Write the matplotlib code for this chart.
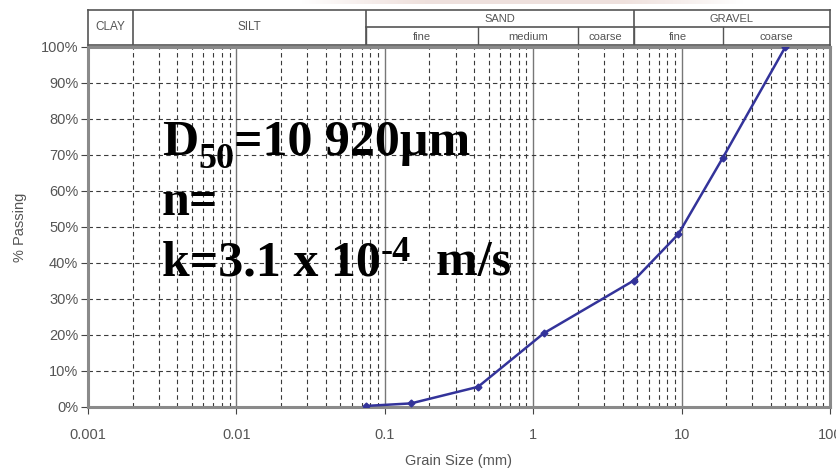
import numpy as np
import matplotlib
matplotlib.use('Agg')
from matplotlib import pyplot as plt
from matplotlib.ticker import FixedLocator, NullFormatter, FuncFormatter

# sieve sizes (mm) and percent passing
grain_size = [0.075, 0.15, 0.425, 1.18, 4.75, 9.5, 19, 50]
passing = [0.3, 1.0, 5.6, 20.5, 35.1, 48.0, 69.3, 100]

x_ticks = [0.001, 0.01, 0.1, 1, 10, 100]
x_tick_labels = ['0.001', '0.01', '0.1', '1', '10', '100']
y_ticks = [0, 10, 20, 30, 40, 50, 60, 70, 80, 90, 100]

# soil classification header: (name, lower mm, upper mm)
main_classes = [('SAND', 0.075, 4.75), ('GRAVEL', 4.75, 100)]
full_classes = [('CLAY', 0.001, 0.002), ('SILT', 0.002, 0.075)]
sub_classes = [('fine', 0.075, 0.425), ('medium', 0.425, 2), ('coarse', 2, 4.75),
               ('fine', 4.75, 19), ('coarse', 19, 100)]

# annotation lines: pieces of (text, size factor, baseline shift in px)
note_lines = [
    [('D', 1.0, 0), ('50', 0.72, -13), ('=10 920µm', 1.0, 0)],
    [('n=', 1.0, 0)],
    [('k=3.1 x 10', 1.0, 0), ('-4', 0.72, 14), ('  m/s', 1.0, 0)],
]

plt.rcParams['font.family'] = ['Liberation Sans', 'DejaVu Sans']

W, H = 837, 470
fig = plt.figure(figsize=(W / 100, H / 100), dpi=100)

def frac(x0, y0, x1, y1):
    # pixel box -> figure fraction rect
    return [x0 / W, 1 - y1 / H, (x1 - x0) / W, (y1 - y0) / H]

grid_col = '#3a3a3a'
frame_col = '#8a8a8a'
text_col = '#555555'

ax = fig.add_axes(frac(88, 47, 830, 407))
ax.set_xscale('log')
ax.set_xlim(0.001, 100)
ax.set_ylim(0, 100)

ax.plot(grain_size, passing, color='#33339a', lw=1.8, marker='D', ms=3.5,
        zorder=5)

ax.xaxis.set_major_locator(FixedLocator(x_ticks))
ax.xaxis.set_major_formatter(FuncFormatter(lambda v, p: x_tick_labels[x_ticks.index(v)] if v in x_ticks else ''))
minor = [m * 10.0 ** e for e in range(-3, 2) for m in range(2, 10)]
ax.xaxis.set_minor_locator(FixedLocator(minor))
ax.xaxis.set_minor_formatter(NullFormatter())
ax.yaxis.set_major_locator(FixedLocator(y_ticks))
ax.yaxis.set_major_formatter(FuncFormatter(lambda v, p: '%d%%' % v))

ax.grid(True, which='minor', axis='x', color=grid_col, lw=0.8, ls=(0, (4, 3)))
ax.grid(True, which='major', axis='x', color='#777777', lw=1.0, ls='-')
ax.grid(True, which='major', axis='y', color=grid_col, lw=0.8, ls=(0, (4, 3)))
ax.set_axisbelow(True)

for side in ['left', 'bottom', 'top', 'right']:
    ax.spines[side].set_color(frame_col)
    ax.spines[side].set_linewidth(2.2)

ax.tick_params(axis='both', which='major', direction='out', length=5,
               color='#444444', labelcolor=text_col, labelsize=10.5)
ax.tick_params(axis='x', which='major', pad=10)
ax.tick_params(axis='y', which='major', pad=2)
ax.tick_params(axis='x', which='minor', length=0)

ax.set_xlabel('Grain Size (mm)', color=text_col, fontsize=10.5, labelpad=9)
ax.set_ylabel('% Passing', color=text_col, fontsize=10.5, labelpad=10)

# big annotation text, built piece by piece so sub/superscripts sit right
renderer = fig.canvas.get_renderer()
base_size = 36
for i, pieces in enumerate(note_lines):
    x_px = 162
    y_px = 155 + 60 * i
    for txt, fac, dy in pieces:
        t = fig.text(x_px / W, 1 - (y_px - dy) / H, txt, family='Liberation Serif',
                     weight='bold', size=base_size * fac, color='black',
                     va='baseline', ha='left')
        x_px += t.get_window_extent(renderer).width

# classification header above the plot
hx = fig.add_axes(frac(88, 10, 830, 45))
hx.set_xscale('log')
hx.set_xlim(0.001, 100)
hx.set_ylim(0, 2)
hx.set_xticks([])
hx.set_yticks([])
hx.minorticks_off()
for side in ['left', 'bottom', 'top', 'right']:
    hx.spines[side].set_color('#555555')
    hx.spines[side].set_linewidth(1.2)
hx.axhline(1, xmin=(np.log10(0.075) + 3) / 5, xmax=1, color='#555555', lw=1.2)
for name, lo, hi in full_classes:
    if lo > 0.001:
        hx.axvline(lo, color='#555555', lw=1.2)
    hx.text(np.sqrt(lo * hi), 1.05, name, ha='center', va='center',
            fontsize=8.5, color=text_col)
for name, lo, hi in main_classes:
    hx.axvline(lo, color='#555555', lw=1.2)
    hx.text(np.sqrt(lo * hi), 1.5, name, ha='center', va='center',
            fontsize=8, color=text_col)
for name, lo, hi in sub_classes:
    hx.plot([lo, lo], [0, 1], color='#555555', lw=1.0)
    hx.text(np.sqrt(lo * hi), 0.48, name, ha='center', va='center',
            fontsize=8, color=text_col)

# faint pinkish smear at the very top of the picture
bx = fig.add_axes(frac(300, 0, 745, 4))
bx.axis('off')
grad = np.linspace(0, 1, 200)
alpha = np.clip(np.sin(grad * np.pi) * 1.3, 0, 1) * 0.35
rgba = np.zeros((1, 200, 4))
rgba[..., 0] = 0.82
rgba[..., 1] = 0.66
rgba[..., 2] = 0.62
rgba[..., 3] = alpha
bx.imshow(rgba, aspect='auto', extent=[0, 1, 0, 1])

fig.savefig('out.png', dpi=100)
